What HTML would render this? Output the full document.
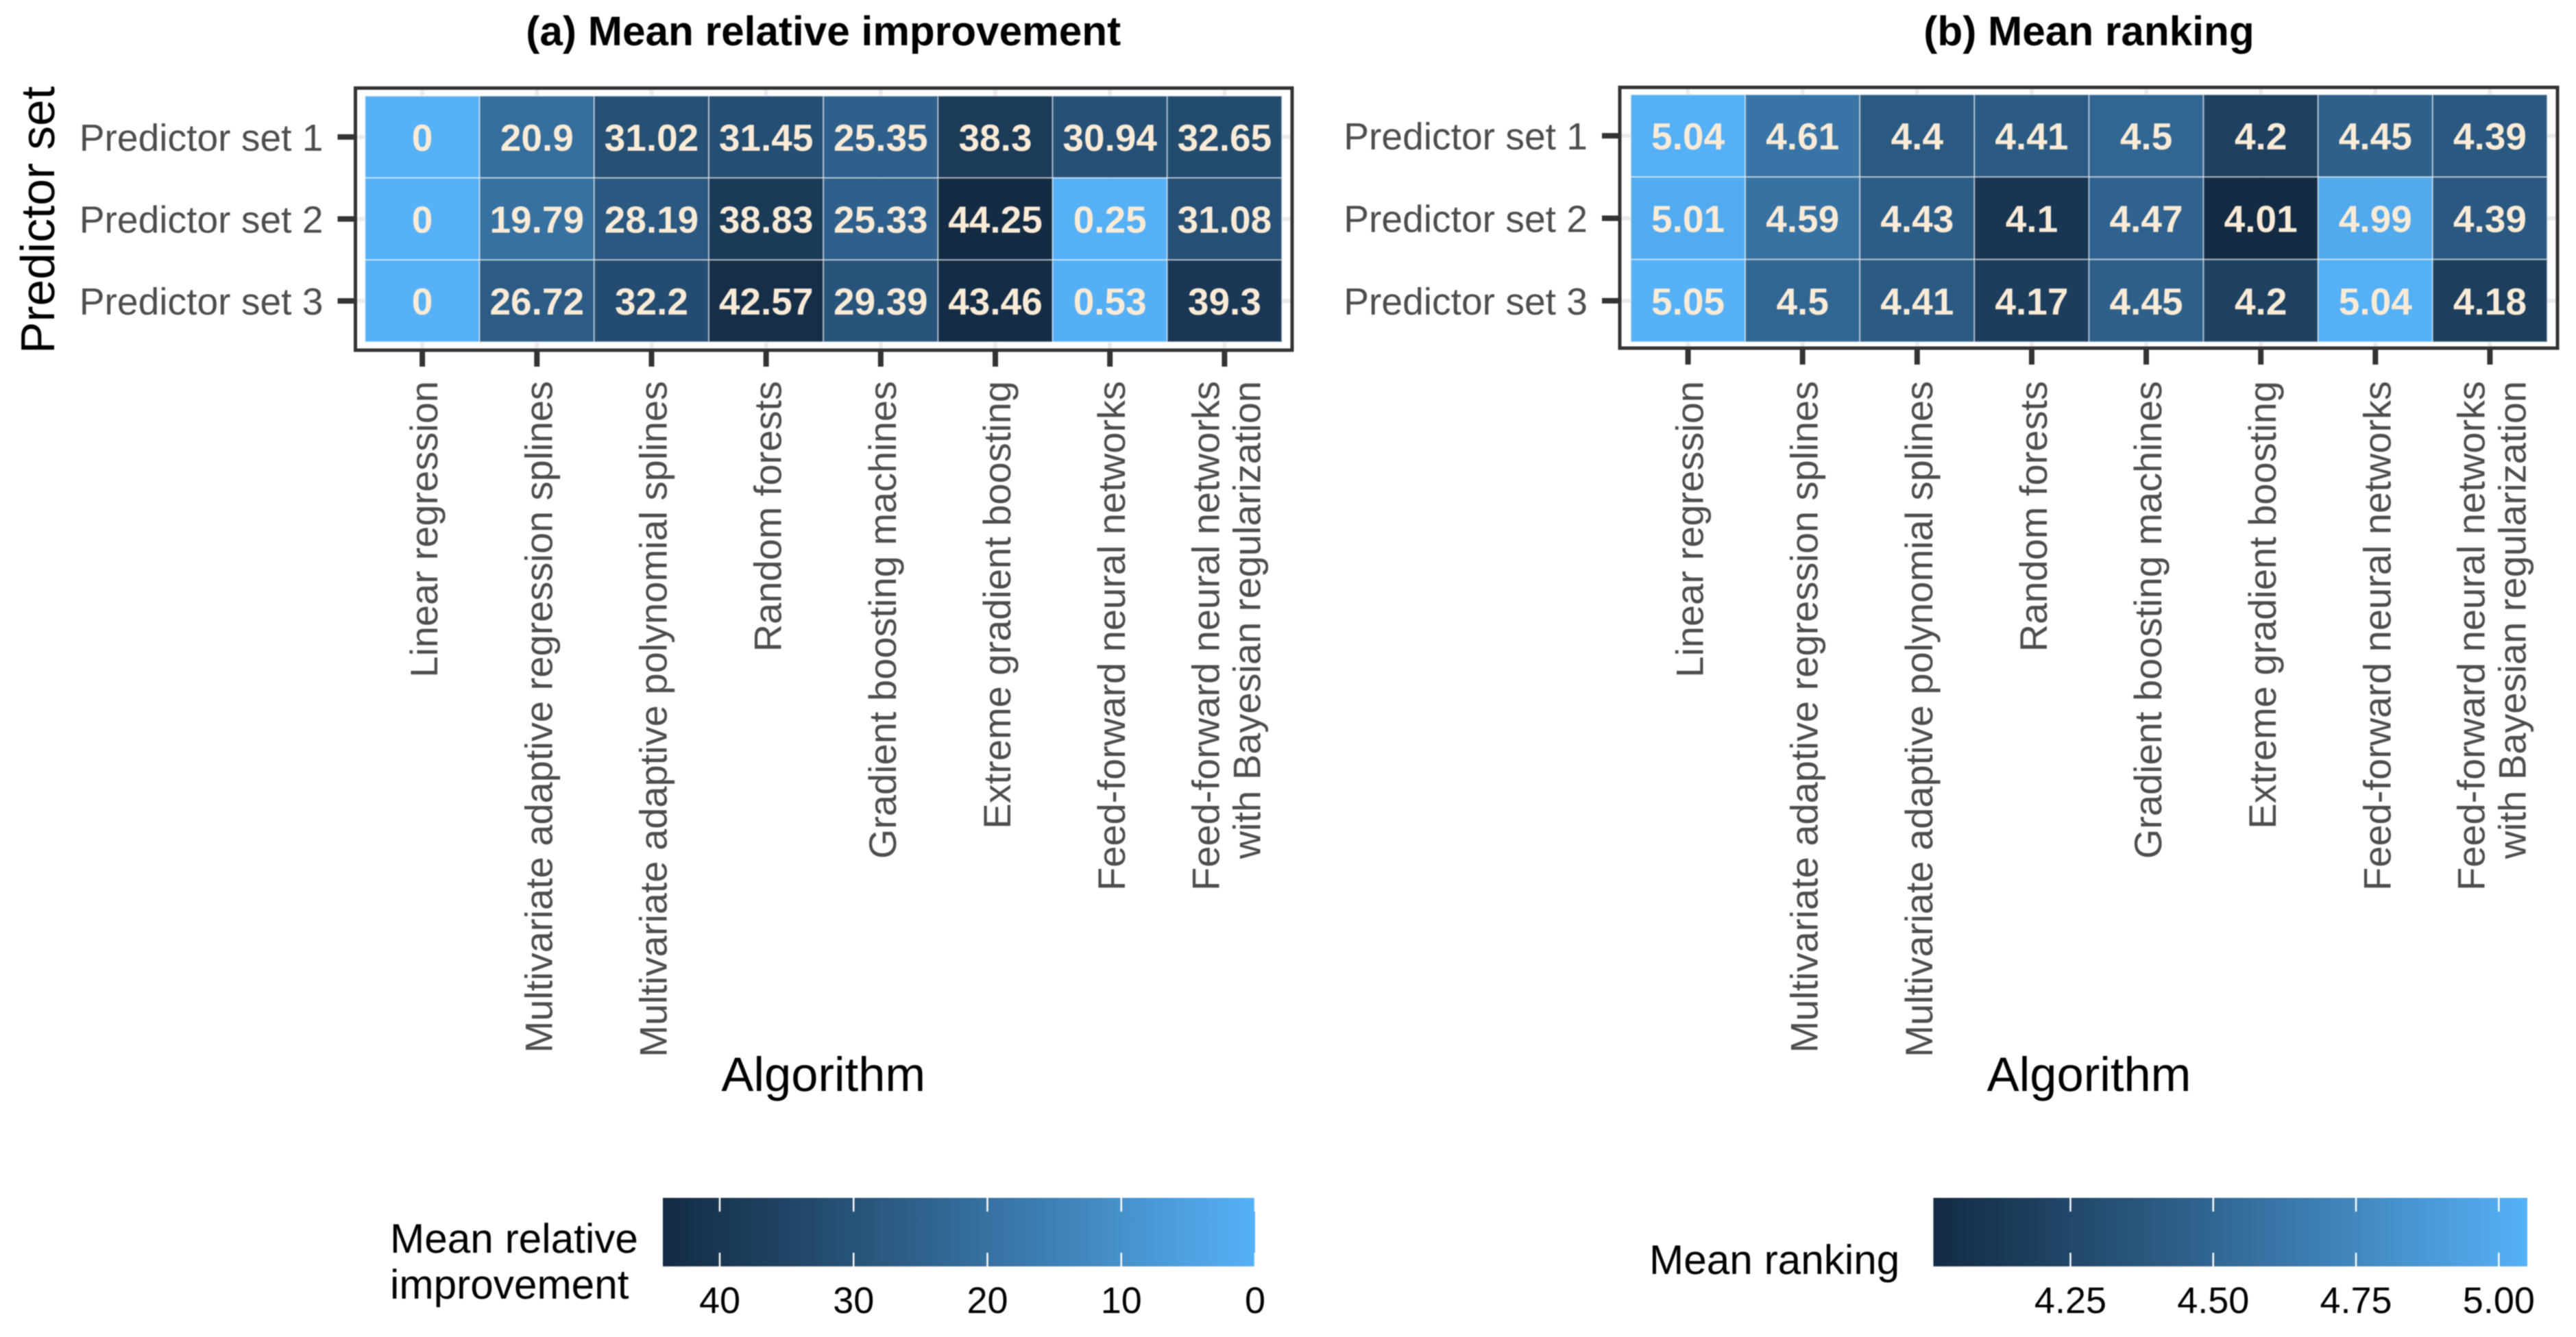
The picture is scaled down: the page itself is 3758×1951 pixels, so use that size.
<!DOCTYPE html>
<html lang="en">
<head>
<meta charset="utf-8">
<title>Mean relative improvement and mean ranking heatmaps</title>
<style>
html,body{margin:0;padding:0;background:#fff;}
#figure{display:block;width:3758px;height:1951px;font-family:"Liberation Sans",sans-serif;text-rendering:geometricPrecision;filter:blur(0.7px);}
</style>
</head>
<body>
<svg id="figure" xmlns="http://www.w3.org/2000/svg" width="3758" height="1951" viewBox="0 0 3758 1951">
<rect x="0" y="0" width="3758" height="1951" fill="#ffffff"/>
<defs>
<linearGradient id="legend-gradient-a"></linearGradient>
<linearGradient id="legend-gradient-b"></linearGradient>
</defs>
<g id="panel-a"></g>
<g id="panel-b"></g>
<text transform="translate(79 516) rotate(-90)" font-size="69.5" fill="#000">Predictor set</text>
</svg>
<script>
// ---- data ----
const algorithms = [
  ["Linear regression"],
  ["Multivariate adaptive regression splines"],
  ["Multivariate adaptive polynomial splines"],
  ["Random forests"],
  ["Gradient boosting machines"],
  ["Extreme gradient boosting"],
  ["Feed-forward neural networks"],
  ["Feed-forward neural networks", "with Bayesian regularization"]
];
const predictorSets = ["Predictor set 1", "Predictor set 2", "Predictor set 3"];

const improvementSet1 = [0, 20.9, 31.02, 31.45, 25.35, 38.3, 30.94, 32.65];
const improvementSet2 = [0, 19.79, 28.19, 38.83, 25.33, 44.25, 0.25, 31.08];
const improvementSet3 = [0, 26.72, 32.2, 42.57, 29.39, 43.46, 0.53, 39.3];

const rankingSet1 = [5.04, 4.61, 4.4, 4.41, 4.5, 4.2, 4.45, 4.39];
const rankingSet2 = [5.01, 4.59, 4.43, 4.1, 4.47, 4.01, 4.99, 4.39];
const rankingSet3 = [5.05, 4.5, 4.41, 4.17, 4.45, 4.2, 5.04, 4.18];

const improvementTicks = [40, 30, 20, 10, 0];
const improvementTickLabels = ["40", "30", "20", "10", "0"];
const rankingTicks = [4.25, 4.5, 4.75, 5];
const rankingTickLabels = ["4.25", "4.50", "4.75", "5.00"];

// ---- colour scale: ggplot-style gradient interpolated in Lab ----
function srgbToLab(hex) {
  const c = [1, 3, 5].map(function (i) {
    const u = parseInt(hex.substr(i, 2), 16) / 255;
    return u <= 0.04045 ? u / 12.92 : Math.pow((u + 0.055) / 1.055, 2.4);
  });
  const X = (0.4124564 * c[0] + 0.3575761 * c[1] + 0.1804375 * c[2]) / 0.95047;
  const Y = 0.2126729 * c[0] + 0.7151522 * c[1] + 0.072175 * c[2];
  const Z = (0.0193339 * c[0] + 0.119192 * c[1] + 0.9503041 * c[2]) / 1.08883;
  const f = function (t) { return t > 0.008856 ? Math.cbrt(t) : 7.787 * t + 16 / 116; };
  return [116 * f(Y) - 16, 500 * (f(X) - f(Y)), 200 * (f(Y) - f(Z))];
}
function labToHex(lab) {
  const fy = (lab[0] + 16) / 116, fx = lab[1] / 500 + fy, fz = fy - lab[2] / 200;
  const inv = function (t) { return t * t * t > 0.008856 ? t * t * t : (t - 16 / 116) / 7.787; };
  const X = inv(fx) * 0.95047, Y = inv(fy), Z = inv(fz) * 1.08883;
  const lin = [
    3.2404542 * X - 1.5371385 * Y - 0.4985314 * Z,
    -0.969266 * X + 1.8760108 * Y + 0.041556 * Z,
    0.0556434 * X - 0.2040259 * Y + 1.0572252 * Z
  ];
  return "#" + lin.map(function (u) {
    u = Math.max(0, Math.min(1, u));
    const s = u <= 0.0031308 ? 12.92 * u : 1.055 * Math.pow(u, 1 / 2.4) - 0.055;
    return ("0" + Math.round(s * 255).toString(16)).slice(-2);
  }).join("");
}
const darkLab = srgbToLab("#132B43");
const lightLab = srgbToLab("#56B1F7");
function rampColor(f) {
  f = Math.max(0, Math.min(1, f));
  return labToHex([0, 1, 2].map(function (i) { return darkLab[i] + (lightLab[i] - darkLab[i]) * f; }));
}

// ---- drawing ----
const SVG_NS = "http://www.w3.org/2000/svg";
function make(parent, tag, attrs, text) {
  const el = document.createElementNS(SVG_NS, tag);
  Object.keys(attrs).forEach(function (k) { el.setAttribute(k, attrs[k]); });
  if (text !== undefined) el.textContent = text;
  parent.appendChild(el);
  return el;
}
function slug(s) { return String(s).toLowerCase().replace(/[^a-z0-9]+/g, "-"); }

function drawPanel(cfg) {
  const root = document.getElementById(cfg.groupId);
  const nCols = algorithms.length, nRows = predictorSets.length;
  const cellW = (cfg.tileRight - cfg.tileLeft) / nCols;
  const cellH = (cfg.tileBottom - cfg.tileTop) / nRows;
  const xAxis = function (i) { return cfg.tileLeft + (i + 0.5) * cellW; };
  const yAxis = function (j) { return cfg.tileTop + (j + 0.5) * cellH; };
  const all = cfg.rows.reduce(function (a, r) { return a.concat(r); }, []);
  const minV = Math.min.apply(null, all), maxV = Math.max.apply(null, all);
  const darkV = cfg.darkIsHigh ? maxV : minV, lightV = cfg.darkIsHigh ? minV : maxV;
  const fraction = function (v) { return (v - darkV) / (lightV - darkV); };
  const legendX = function (v) { return cfg.barLeft + fraction(v) * (cfg.barRight - cfg.barLeft); };
  const centerX = (cfg.tileLeft + cfg.tileRight) / 2;

  const title = make(root, "text", { x: centerX, y: 66, "text-anchor": "middle", "font-size": 60.3, "font-weight": 700, fill: "#000" }, cfg.title);
  
  

  // faint grid lines behind the tiles
  algorithms.forEach(function (a, i) {
    const g = make(root, "line", { x1: xAxis(i), x2: xAxis(i), y1: cfg.frameTop, y2: cfg.frameBottom, stroke: "#EBEBEB", "stroke-width": 6 });
    
    
  });
  predictorSets.forEach(function (p, j) {
    const g = make(root, "line", { x1: cfg.frameLeft, x2: cfg.frameRight, y1: yAxis(j), y2: yAxis(j), stroke: "#EBEBEB", "stroke-width": 6 });
    
    
  });

  // heatmap cells
  cfg.rows.forEach(function (row, j) {
    row.forEach(function (v, i) {
      const cell = make(root, "rect", { x: xAxis(i) - cellW / 2, y: yAxis(j) - cellH / 2, width: cellW, height: cellH, fill: rampColor(fraction(v)), stroke: "#ffffff", "stroke-opacity": 0.5, "stroke-width": 2 });
      
      
    });
  });
  cfg.rows.forEach(function (row, j) {
    row.forEach(function (v, i) {
      const label = make(root, "text", { x: xAxis(i), y: yAxis(j) + 20, "text-anchor": "middle", "font-size": 55, "font-weight": 700, fill: "#FAEBD7" }, String(v));
      
      
    });
  });

  // panel border
  const frame = make(root, "rect", { x: cfg.frameLeft, y: cfg.frameTop, width: cfg.frameRight - cfg.frameLeft, height: cfg.frameBottom - cfg.frameTop, fill: "none", stroke: "#333333", "stroke-width": 5 });
  
  

  // y axis
  predictorSets.forEach(function (p, j) {
    const tick = make(root, "line", { x1: cfg.frameLeft - 26, x2: cfg.frameLeft, y1: yAxis(j), y2: yAxis(j), stroke: "#333333", "stroke-width": 8 });
    
    
    const lab = make(root, "text", { x: cfg.frameLeft - 47, y: yAxis(j) + 20, "text-anchor": "end", "font-size": 55.2, fill: "#4D4D4D" }, p);
    
    
  });

  // x axis
  algorithms.forEach(function (lines, i) {
    const tick = make(root, "line", { x1: xAxis(i), x2: xAxis(i), y1: cfg.frameBottom, y2: cfg.frameBottom + 24, stroke: "#333333", "stroke-width": 8 });
    
    
    lines.forEach(function (line, k) {
      const base = xAxis(i) + 22 + (k - (lines.length - 1) / 2) * 60;
      const lab = make(root, "text", { transform: "translate(" + base + " 556) rotate(-90)", "text-anchor": "end", "font-size": 56, fill: "#4D4D4D" }, line);
      
      
    });
  });

  const xTitle = make(root, "text", { x: centerX, y: 1592, "text-anchor": "middle", "font-size": 70.5, fill: "#000" }, "Algorithm");
  
  

  // legend bar
  const grad = document.getElementById(cfg.gradientId);
  for (let s = 0; s <= 40; s++) {
    make(grad, "stop", { offset: s / 40, "stop-color": rampColor(s / 40) });
  }
  const bar = make(root, "rect", { x: cfg.barLeft, y: 1748, width: cfg.barRight - cfg.barLeft, height: 100, fill: "url(#" + cfg.gradientId + ")" });
  
  
  cfg.ticks.forEach(function (v, k) {
    const x = legendX(v);
    const top = make(root, "line", { x1: x, x2: x, y1: 1748, y2: 1768, stroke: "#ffffff", "stroke-width": 2.5 });
    
    
    const bottom = make(root, "line", { x1: x, x2: x, y1: 1828, y2: 1848, stroke: "#ffffff", "stroke-width": 2.5 });
    
    
    const lab = make(root, "text", { x: x, y: 1916, "text-anchor": "middle", "font-size": 54, fill: "#000" }, cfg.tickLabels[k]);
    
    
  });
  cfg.legendTitle.forEach(function (line) {
    const t = make(root, "text", { x: line.x, y: line.y, "font-size": 60.3, fill: "#000" }, line.text);
    
    
  });
}

drawPanel({
  groupId: "panel-a", gradientId: "legend-gradient-a", title: "(a) Mean relative improvement",
  rows: [improvementSet1, improvementSet2, improvementSet3], darkIsHigh: true,
  frameLeft: 518.5, frameRight: 1885, frameTop: 128.5, frameBottom: 511,
  tileLeft: 532.5, tileRight: 1870, tileTop: 140, tileBottom: 499,
  barLeft: 967, barRight: 1831,
  ticks: improvementTicks, tickLabels: improvementTickLabels,
  legendTitle: [{ text: "Mean relative", x: 569, y: 1828 }, { text: "improvement", x: 569, y: 1895 }]
});
drawPanel({
  groupId: "panel-b", gradientId: "legend-gradient-b", title: "(b) Mean ranking",
  rows: [rankingSet1, rankingSet2, rankingSet3], darkIsHigh: false,
  frameLeft: 2363, frameRight: 3731, frameTop: 127.5, frameBottom: 508,
  tileLeft: 2379, tileRight: 3716, tileTop: 138, tileBottom: 499,
  barLeft: 2820.5, barRight: 3687,
  ticks: rankingTicks, tickLabels: rankingTickLabels,
  legendTitle: [{ text: "Mean ranking", x: 2406, y: 1859 }]
});
</script>
</body>
</html>
